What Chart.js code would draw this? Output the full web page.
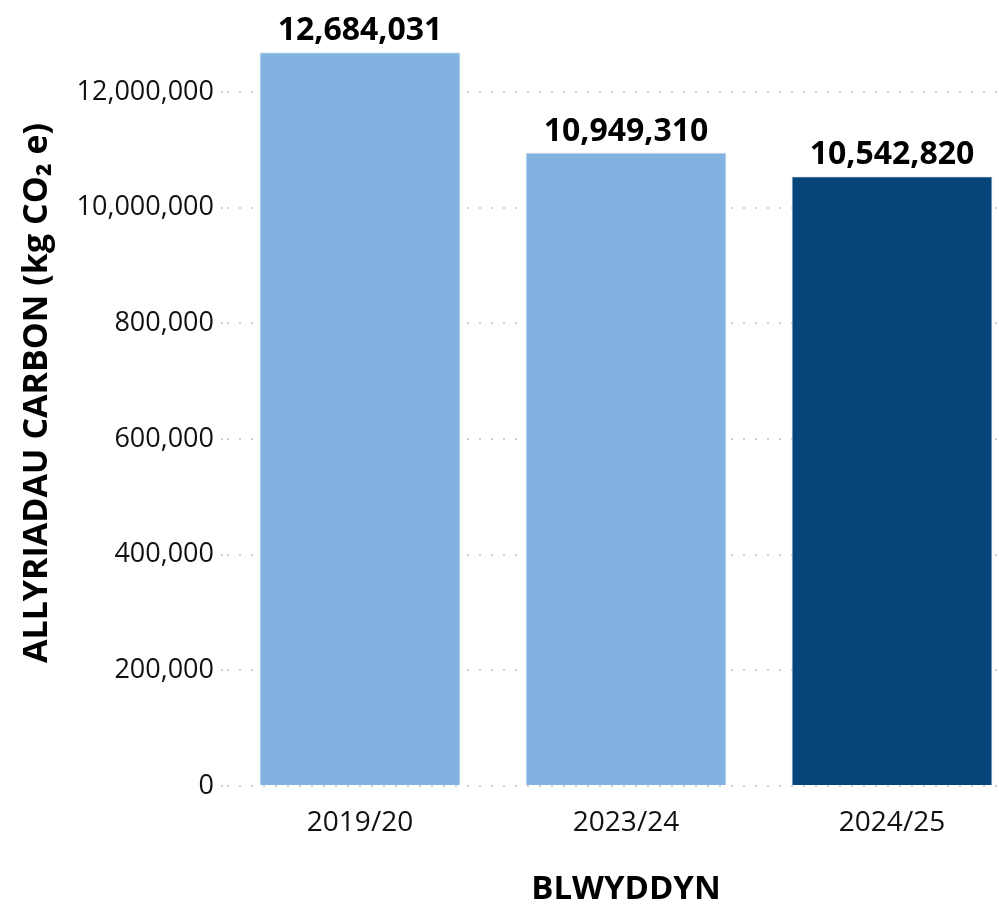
<!DOCTYPE html>
<html>
<head>
<meta charset="utf-8">
<script src="https://cdn.jsdelivr.net/npm/chart.js@4/dist/chart.umd.min.js"></script>
<style>
  html, body { margin: 0; padding: 0; background: #fff; overflow: hidden; }
  #wrap { width: 1032px; height: 906px; }
</style>
</head>
<body>
<div id="wrap"><canvas id="carbonChart"></canvas></div>
<script>
// chart data
const years = ['2019/20', '2023/24', '2024/25'];
const emissions = [12684031, 10949310, 10542820];
const barColours = ['#82b3e0', '#82b3e0', '#07447a'];
const tickValues = [0, 2000000, 4000000, 6000000, 8000000, 10000000, 12000000];
const tickLabels = ['0', '200,000', '400,000', '600,000', '800,000', '10,000,000', '12,000,000'];

const FONT = "'Open Sans', 'DejaVu Sans', sans-serif";

// draw the value above each bar
const valueLabels = {
  id: 'valueLabels',
  afterDatasetsDraw(chart) {
    const ctx = chart.ctx;
    const meta = chart.getDatasetMeta(0);
    ctx.save();
    ctx.font = "bold 32px " + FONT;
    ctx.fillStyle = '#000';
    ctx.textAlign = 'center';
    ctx.textBaseline = 'alphabetic';
    meta.data.forEach((bar, i) => {
      ctx.fillText(emissions[i].toLocaleString('en-GB'), bar.x, bar.y - 12);
    });
    ctx.restore();
  }
};

new Chart(document.getElementById('carbonChart'), {
  type: 'bar',
  data: {
    labels: years,
    datasets: [{
      data: emissions,
      backgroundColor: barColours,
      borderColor: 'rgba(220,233,246,0.9)',
      borderWidth: 1,
      categoryPercentage: 0.756,
      barPercentage: 1
    }]
  },
  options: {
    responsive: true,
    maintainAspectRatio: false,
    animation: false,
    layout: { padding: { top: 34, right: 7, left: 0, bottom: 0 } },
    plugins: { legend: { display: false }, tooltip: { enabled: false } },
    scales: {
      x: {
        grid: { display: false },
        border: { display: false },
        ticks: { color: '#111', padding: 12, font: { family: FONT, size: 28 } },
        title: {
          display: true,
          text: 'BLWYDDYN',
          color: '#000',
          font: { family: FONT, size: 33, weight: 'bold', lineHeight: 1 },
          padding: { top: 0, bottom: 0 }
        },
        afterFit(axis) { axis.height = 120; }
      },
      y: {
        min: 0,
        max: 13000000,
        border: { display: false, dash: [2, 10] },
        grid: {
          color: '#cfcfcf',
          lineWidth: 2,
          tickLength: 6,
          tickBorderDash: [2, 10]
        },
        afterBuildTicks(axis) {
          axis.ticks = tickValues.map(v => ({ value: v }));
        },
        ticks: {
          color: '#111',
          padding: 7,
          font: { family: FONT, size: 27 },
          callback: (v) => tickLabels[tickValues.indexOf(v)]
        },
        title: {
          display: true,
          // leading en spaces nudge the title up a little
          text: '\u2002\u2002ALLYRIADAU CARBON (kg CO₂ e)',
          color: '#000',
          font: { family: FONT, size: 34, weight: 'bold' },
          padding: { top: 17, bottom: 0 }
        },
        afterFit(axis) { axis.width = 227; }
      }
    }
  },
  plugins: [valueLabels]
});
</script>
</body>
</html>
